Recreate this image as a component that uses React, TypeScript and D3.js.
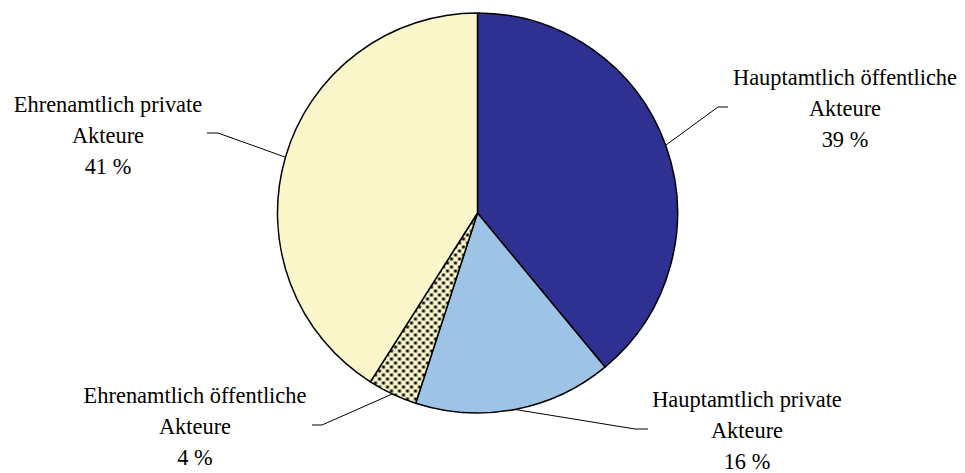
import React from "react";
import * as d3 from "d3";

// Share of actors by type (percent), clockwise from 12 o'clock
const categories = [
  "Hauptamtlich öffentliche",
  "Hauptamtlich private",
  "Ehrenamtlich öffentliche",
  "Ehrenamtlich private",
];
const values = [39, 16, 4, 41];
const secondLine = ["Akteure", "Akteure", "Akteure", "Akteure"];

const WIDTH = 965;
const HEIGHT = 473;
const CX = 477.5;
const CY = 213;
const R = 200;

const fills = ["#2E3192", "#9DC3E6", "url(#dots)", "#FBF7CB"];

// Label layout: text centre x, first baseline y, leader elbow and end
const labelLayout = [
  { x: 845, y: 85, elbow: [718, 107], end: [728, 107] },
  { x: 747, y: 407, elbow: [635, 429], end: [648, 429] },
  { x: 195, y: 403, elbow: [322, 425], end: [312, 425] },
  { x: 108, y: 112, elbow: [218, 133], end: [207, 133] },
];

export default function App() {
  const pie = d3
    .pie<number>()
    .sort(null)
    .value((d) => d);
  const arcs = pie(values);
  const arc = d3.arc<d3.PieArcDatum<number>>().innerRadius(0).outerRadius(R);
  const lineH = 31;

  return (
    <svg
      width={WIDTH}
      height={HEIGHT}
      style={{ position: "absolute", left: 0, top: 0, background: "#fff" }}
    >
      <defs>
        <pattern id="dots" width={8} height={8} patternUnits="userSpaceOnUse">
          <rect width={8} height={8} fill="#FBF7CB" />
          <rect x={0.5} y={0.5} width={3} height={3} fill="#111" />
          <rect x={4.5} y={4.5} width={3} height={3} fill="#111" />
        </pattern>
      </defs>
      <g transform={`translate(${CX},${CY})`}>
        {arcs.map((a, i) => (
          <path
            key={categories[i]}
            d={arc(a) || ""}
            fill={fills[i]}
            stroke="#000"
            strokeWidth={1.5}
            strokeLinejoin="round"
          />
        ))}
      </g>
      {arcs.map((a, i) => {
        const mid = (a.startAngle + a.endAngle) / 2;
        const sx = CX + R * Math.sin(mid);
        const sy = CY - R * Math.cos(mid);
        const L = labelLayout[i];
        return (
          <polyline
            key={"l" + i}
            points={`${sx},${sy} ${L.elbow[0]},${L.elbow[1]} ${L.end[0]},${L.end[1]}`}
            fill="none"
            stroke="#000"
            strokeWidth={1}
          />
        );
      })}
      {categories.map((c, i) => {
        const L = labelLayout[i];
        const lines = [c, secondLine[i], `${values[i]} %`];
        return (
          <g key={"t" + i}>
            {lines.map((s, j) => (
              <text
                key={j}
                x={L.x}
                y={L.y + j * lineH}
                textAnchor="middle"
                style={{ fontFamily: '"Liberation Serif"', fontSize: 22.4 }}
                fill="#000"
              >
                {s}
              </text>
            ))}
          </g>
        );
      })}
    </svg>
  );
}
